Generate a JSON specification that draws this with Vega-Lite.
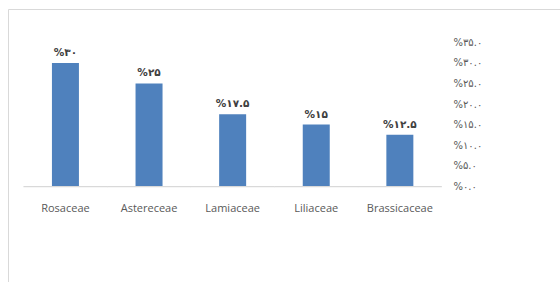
{
  "$schema": "https://vega.github.io/schema/vega-lite/v6.json",
  "autosize": {"type": "none"},
  "padding": {"left": 8, "top": 9, "right": 0, "bottom": 0},
  "width": 565,
  "height": 280,
  "background": "white",
  "config": {"view": {"stroke": "#d9d9d9", "strokeWidth": 1}},
  "data": {
    "values": [
      {"family": "Rosaceae", "share": 30, "label": "%۳۰"},
      {"family": "Astereceae", "share": 25, "label": "%۲۵"},
      {"family": "Lamiaceae", "share": 17.5, "label": "%۱۷.۵"},
      {"family": "Liliaceae", "share": 15, "label": "%۱۵"},
      {"family": "Brassicaceae", "share": 12.5, "label": "%۱۲.۵"}
    ]
  },
  "encoding": {
    "x": {
      "field": "family",
      "type": "nominal",
      "sort": null,
      "scale": {"type": "band", "paddingInner": 0.242, "paddingOuter": 1, "align": 0.154},
      "axis": {
        "orient": "bottom",
        "offset": -103,
        "title": null,
        "domain": false,
        "ticks": false,
        "tickSize": 0,
        "labelPadding": 16,
        "labelAngle": 0,
        "labelFont": "Open Sans",
        "labelFontSize": 11,
        "labelColor": "#595959"
      }
    },
    "y": {
      "field": "share",
      "type": "quantitative",
      "scale": {"domain": [-25.12, 43.17], "nice": false, "zero": false},
      "axis": {
        "orient": "right",
        "offset": -122,
        "title": null,
        "domain": false,
        "ticks": false,
        "tickSize": 0,
        "grid": false,
        "labelPadding": 2,
        "values": [0, 5, 10, 15, 20, 25, 30, 35],
        "labelFont": "DejaVu Sans",
        "labelFontSize": 10,
        "labelColor": "#595959",
        "labelExpr": "datum.value == 0 ? '%۰.۰' : datum.value == 5 ? '%۵.۰' : datum.value == 10 ? '%۱۰.۰' : datum.value == 15 ? '%۱۵.۰' : datum.value == 20 ? '%۲۰.۰' : datum.value == 25 ? '%۲۵.۰' : datum.value == 30 ? '%۳۰.۰' : '%۳۵.۰'"
      }
    }
  },
  "layer": [
    {
      "mark": {"type": "bar", "color": "#4f81bd", "width": {"band": 0.426}}
    },
    {
      "mark": {"type": "bar", "color": "#d9d9d9", "width": {"band": 1.325}},
      "encoding": {
        "y": {"datum": 0, "type": "quantitative"},
        "y2": {"datum": -0.3}
      }
    },
    {
      "mark": {"type": "text", "baseline": "bottom", "dy": -5, "fontWeight": "bold", "fontSize": 10.5, "color": "#404040", "font": "DejaVu Sans"},
      "encoding": {"text": {"field": "label"}}
    }
  ]
}
